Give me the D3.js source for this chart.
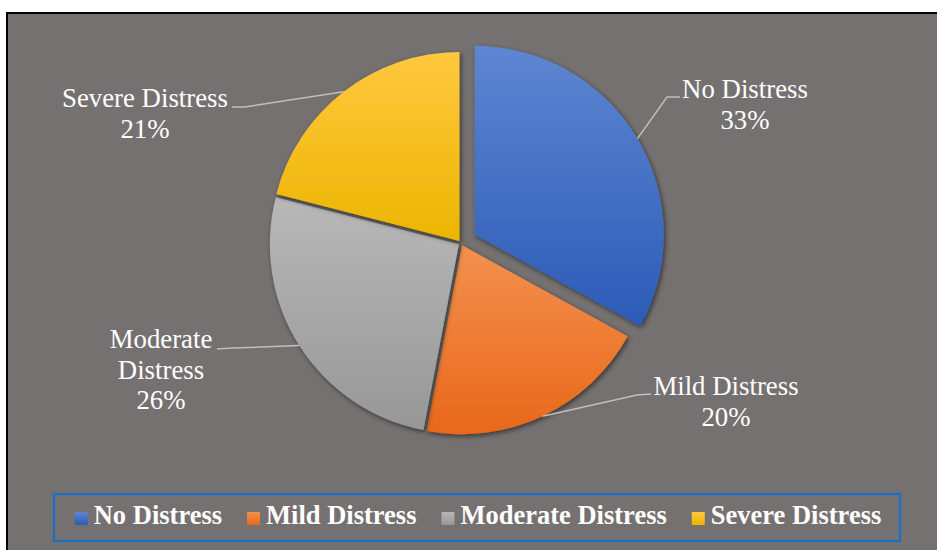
<!DOCTYPE html>
<html>
<head>
<meta charset="utf-8">
<script src="https://cdn.jsdelivr.net/npm/d3@7"></script>
<style>
  html, body { margin: 0; padding: 0; background: #ffffff; }
  svg { display: block; }
  text { font-family: "Liberation Serif", "Times New Roman", serif; }
</style>
</head>
<body>
<svg id="chart" width="937" height="550"></svg>
<script>
// ---- data ----
const categories = ["No Distress", "Mild Distress", "Moderate Distress", "Severe Distress"];
const values = [33, 20, 26, 21];
const colorsTop = ["#5E86D2", "#F4904F", "#B8B8B8", "#FFC83F"];
const colorsBottom = ["#2B5BB7", "#E8681A", "#979797", "#ECB500"];

// ---- layout ----
const W = 937, H = 550;
const cx = 461, cy = 243, R = 189;
const explode = [16, 2.5, 2.5, 2.5];
// label layout: center x, first baseline, line break, leader elbow / end
const labelLayout = [
  { x: 745, y: 98,  lines: 1, elbow: [667, 97],  end: [680, 97] },
  { x: 726, y: 395, lines: 1, elbow: [637, 395], end: [651, 394] },
  { x: 161, y: 348, lines: 2, elbow: [232, 348], end: [217, 349] },
  { x: 145, y: 107, lines: 1, elbow: [245, 107], end: [232, 107] }
];

const svg = d3.select("#chart");
const defs = svg.append("defs");

// gradients per slice
categories.forEach((c, i) => {
  const g = defs.append("linearGradient")
    .attr("id", "grad" + i)
    .attr("x1", 0).attr("y1", 0).attr("x2", 0).attr("y2", 1);
  g.append("stop").attr("offset", "0%").attr("stop-color", colorsTop[i]);
  g.append("stop").attr("offset", "100%").attr("stop-color", colorsBottom[i]);
});

const filt = defs.append("filter").attr("id", "shadow")
  .attr("x", "-20%").attr("y", "-20%").attr("width", "140%").attr("height", "140%");
filt.append("feDropShadow")
  .attr("dx", 1.5).attr("dy", 2).attr("stdDeviation", 2.5)
  .attr("flood-color", "#000").attr("flood-opacity", 0.55);

// background frame
svg.append("rect")
  .attr("x", 7).attr("y", 13).attr("width", W + 10).attr("height", H + 10)
  .attr("fill", "#767171")
  .attr("stroke", "#000").attr("stroke-width", 2);

const pie = d3.pie().sort(null).value(d => d)
  .startAngle(0).endAngle(2 * Math.PI);
const arcs = pie(values);
const arc = d3.arc().innerRadius(0).outerRadius(R);

function offset(d, i) {
  const a = (d.startAngle + d.endAngle) / 2;
  return [explode[i] * Math.sin(a), -explode[i] * Math.cos(a)];
}

const gPie = svg.append("g").attr("transform", `translate(${cx},${cy})`);
gPie.selectAll("path.slice")
  .data(arcs)
  .join("path")
  .attr("class", "slice")
  .attr("transform", (d, i) => {
    const o = offset(d, i);
    return `translate(${o[0]},${o[1]})`;
  })
  .attr("d", arc)
  .attr("fill", (d, i) => `url(#grad${i})`)
  .attr("filter", "url(#shadow)");

// leader lines and labels
const gLab = svg.append("g");
arcs.forEach((d, i) => {
  const a = (d.startAngle + d.endAngle) / 2;
  const o = offset(d, i);
  const sx = cx + o[0] + R * Math.sin(a);
  const sy = cy + o[1] - R * Math.cos(a);
  const L = labelLayout[i];
  gLab.append("polyline")
    .attr("points", [[sx, sy], L.elbow, L.end].map(p => p.join(",")).join(" "))
    .attr("fill", "none")
    .attr("stroke", "#BFBFBF")
    .attr("stroke-width", 1.5);

  const lines = L.lines === 2 ? categories[i].split(" ") : [categories[i]];
  lines.push(values[i] + "%");
  const t = gLab.append("text")
    .attr("text-anchor", "middle")
    .attr("fill", "#FFFFFF")
    .attr("font-size", 26.8);
  lines.forEach((ln, k) => {
    t.append("tspan").attr("x", L.x).attr("y", L.y + k * 30.5).text(ln);
  });
});

// legend
svg.append("rect")
  .attr("x", 54).attr("y", 494).attr("width", 846).attr("height", 47)
  .attr("fill", "none").attr("stroke", "#1C6FC2").attr("stroke-width", 2.2);

const gLeg = svg.append("g");
const items = categories.map((c, i) => {
  const g = gLeg.append("g");
  g.append("rect").attr("x", 0).attr("y", -12).attr("width", 13).attr("height", 13)
    .attr("fill", `url(#grad${i})`);
  const t = g.append("text").attr("x", 19).attr("y", 0)
    .attr("fill", "#FFFFFF").attr("font-size", 26.5).attr("font-weight", "bold")
    .text(c);
  return { g, w: 19 + t.node().getComputedTextLength() };
});
const gap = 25;
const total = d3.sum(items, d => d.w) + gap * (items.length - 1);
let x0 = 478 - total / 2;
items.forEach(it => {
  it.g.attr("transform", `translate(${x0},524)`);
  x0 += it.w + gap;
});
</script>
</body>
</html>
